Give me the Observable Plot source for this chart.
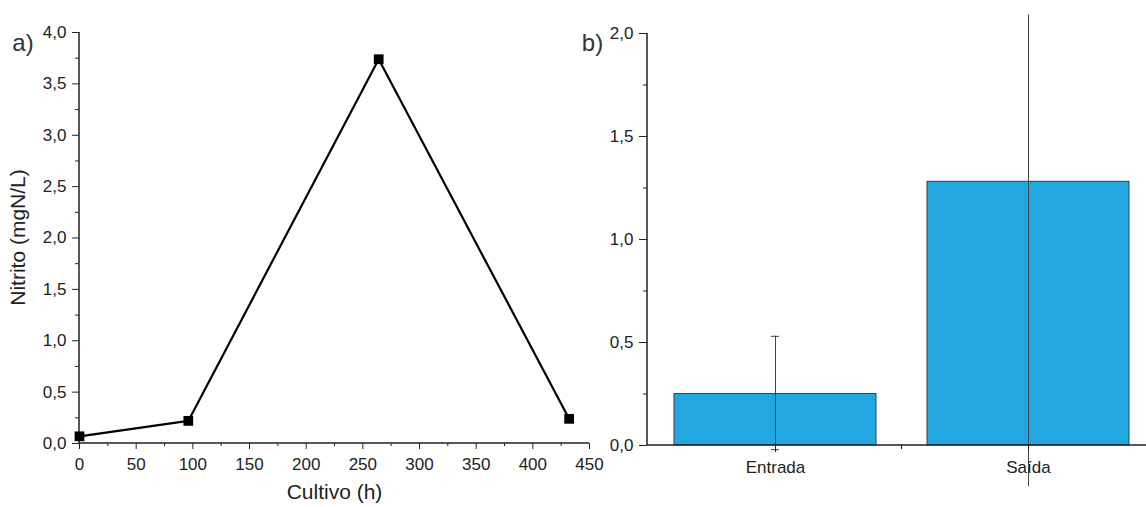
<!DOCTYPE html>
<html><head><meta charset="utf-8">
<script src="https://cdn.jsdelivr.net/npm/d3@7"></script>
<script src="https://cdn.jsdelivr.net/npm/@observablehq/plot@0.6"></script>
<style>
body{margin:0;background:#fff;}
#fig{position:relative;width:1146px;height:507px;overflow:hidden;background:#fff;}
#fig svg{position:absolute;top:0;}
</style></head><body><div id="fig"></div><script>
// ---- Data: panel a ----
const horasCultivo = [0, 96, 264, 432];
const nitritoMgNL = [0.07, 0.22, 3.74, 0.24];
const xTicksA = [0, 50, 100, 150, 200, 250, 300, 350, 400, 450];
const xMinorA = [25, 75, 125, 175, 225, 275, 325, 375, 425];
const yTicksA = [0, 0.5, 1, 1.5, 2, 2.5, 3, 3.5, 4];
const yMinorA = [0.25, 0.75, 1.25, 1.75, 2.25, 2.75, 3.25, 3.75];
const rotuloY = "Nitrito (mgN/L)";
const rotuloX = "Cultivo (h)";
// ---- Data: panel b ----
const categorias = ["Entrada", "Saída"];
const nitritoMedio = [0.25, 1.28];
const erroInferior = [-0.02, -0.20];
const erroSuperior = [0.53, 2.09];
const yTicksB = [0, 0.5, 1, 1.5, 2];
const yMinorB = [0.25, 0.75, 1.25, 1.75];

const fmt = d => d.toFixed(1).replace(".", ",");
const INK = "#222";
const FONT = "'Liberation Sans', Arial, sans-serif";
const SVGNS = "http://www.w3.org/2000/svg";

function axisLines(index, scales, values, dims) {
  const p = document.createElementNS(SVGNS, "path");
  p.setAttribute("d", `M${dims.marginLeft},${dims.marginTop}V${dims.height - dims.marginBottom}H${dims.width - dims.marginRight}`);
  p.setAttribute("fill", "none");
  p.setAttribute("stroke", INK);
  p.setAttribute("stroke-width", 1.5);
  return p;
}

function yTitle(index, scales, values, dims) {
  const t = document.createElementNS(SVGNS, "text");
  const cx = dims.marginLeft - 61;
  const cy = (dims.marginTop + dims.height - dims.marginBottom) / 2;
  t.setAttribute("transform", `translate(${cx},${cy}) rotate(-90)`);
  t.setAttribute("text-anchor", "middle");
  t.setAttribute("dy", "0.35em");
  t.setAttribute("font-size", 21);
  t.setAttribute("fill", INK);
  t.textContent = rotuloY;
  return t;
}

const serieA = horasCultivo.map((h, i) => ({h, v: nitritoMgNL[i]}));

const plotA = Plot.plot({
  width: 620, height: 507,
  marginLeft: 79, marginRight: 31, marginTop: 32, marginBottom: 64,
  style: {fontFamily: FONT, fontSize: "17px", background: "transparent", color: INK},
  x: {domain: [0, 450]},
  y: {domain: [0, 4]},
  marks: [
    Plot.axisY({ticks: yTicksA, tickSize: 7, tickPadding: 6, tickFormat: fmt, label: null, fontSize: 17}),
    Plot.axisY({ticks: yMinorA, tickSize: 4, tickFormat: () => "", label: null}),
    Plot.axisX({ticks: xTicksA, tickSize: 6, tickPadding: 8, tickFormat: d => String(d), label: null, fontSize: 17}),
    Plot.axisX({ticks: xMinorA, tickSize: 3, tickFormat: () => "", label: null}),
    axisLines,
    Plot.line(serieA, {x: "h", y: "v", stroke: "#000", strokeWidth: 2.2}),
    Plot.dot(serieA, {x: "h", y: "v", symbol: "square", r: 5.5, fill: "#000", stroke: "none"}),
    Plot.text([rotuloX], {frameAnchor: "bottom", dy: 55, fontSize: 21, fill: INK}),
    yTitle,
    Plot.text(["a)"], {frameAnchor: "top-left", dx: -56.5, dy: 1, fontSize: 24, textAnchor: "middle", fill: "#333"})
  ]
});

const tabelaB = categorias.map((c, i) => ({cat: c, val: nitritoMedio[i], lo: erroInferior[i], hi: erroSuperior[i]}));
const capsB = tabelaB.filter(d => d.cat === "Entrada").flatMap(d => [{cat: d.cat, v: d.lo}, {cat: d.cat, v: d.hi}]);

function boundaryTick(index, scales, values, dims) {
  const x = scales.x;
  const x0 = x(categorias[0]), x1 = x(categorias[1]);
  const bw = typeof x.bandwidth === "function" ? x.bandwidth() : 0;
  const xb = (x0 + x1) / 2 + bw / 2;
  const y0 = dims.height - dims.marginBottom;
  const p = document.createElementNS(SVGNS, "path");
  p.setAttribute("d", `M${xb},${y0}v4`);
  p.setAttribute("stroke", INK);
  p.setAttribute("stroke-width", 1.2);
  return p;
}

const plotB = Plot.plot({
  width: 586, height: 507,
  marginLeft: 87, marginRight: 0, marginTop: 33, marginBottom: 62,
  style: {fontFamily: FONT, fontSize: "17px", background: "transparent", color: INK},
  x: {type: "band", domain: categorias, range: [87.3, 595.3], paddingInner: 0.2, paddingOuter: 0.1, align: 0.5},
  y: {domain: [0, 2]},
  marks: [
    Plot.barY(tabelaB, {x: "cat", y: "val", fill: "#23a7e0", stroke: "#2c4354", strokeWidth: 1}),
    Plot.ruleX(tabelaB, {x: "cat", y1: "lo", y2: "hi", stroke: "#444", strokeWidth: 1}),
    Plot.tickY(capsB, {x: "cat", y: "v", stroke: "#444", strokeWidth: 1, insetLeft: 97, insetRight: 97}),
    Plot.axisY({ticks: yTicksB, tickSize: 8, tickPadding: 6, tickFormat: fmt, label: null, fontSize: 17}),
    Plot.axisY({ticks: yMinorB, tickSize: 4, tickFormat: () => "", label: null}),
    Plot.axisX({tickSize: 7, tickPadding: 8, label: null, fontSize: 17}),
    boundaryTick,
    axisLines,
    Plot.text(["b)"], {frameAnchor: "top-left", dx: -55, dy: 0, fontSize: 24, textAnchor: "middle", fill: "#333"})
  ]
});

const fig = document.getElementById("fig");
plotA.style.left = "0px";
plotB.style.left = "560px";
fig.appendChild(plotA);
fig.appendChild(plotB);
</script></body></html>
